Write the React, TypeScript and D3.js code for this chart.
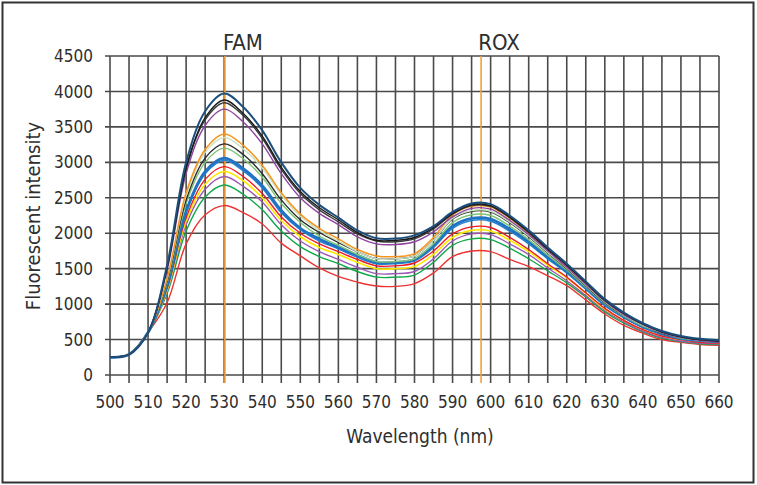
import React from "react";
import * as d3 from "d3";

const wavelengths = [500,505,510,515,520,525,530,535,540,545,550,555,560,565,570,575,580,585,590,595,600,605,610,615,620,625,630,635,640,645,650,655,660];

const s01 = [250,290,600,1550,3000,3720,3970,3780,3450,3000,2640,2400,2220,2040,1930,1925,1970,2100,2300,2420,2410,2250,2040,1800,1570,1320,1070,880,730,620,550,510,490];
const s02 = [250,290,600,1520,2930,3630,3880,3690,3370,2930,2590,2360,2190,2010,1900,1900,1940,2080,2280,2400,2390,2230,2020,1780,1550,1310,1060,870,720,610,540,500,480];
const s03 = [250,290,600,1510,2900,3600,3840,3660,3340,2900,2560,2330,2160,1990,1890,1880,1920,2060,2270,2390,2380,2220,2010,1770,1550,1300,1050,870,720,610,540,500,480];
const s04 = [250,290,600,1480,2840,3520,3750,3570,3260,2840,2500,2280,2120,1950,1850,1840,1880,2020,2230,2350,2340,2180,1980,1750,1520,1280,1040,850,710,600,530,490,470];
const s05 = [250,290,600,1360,2570,3180,3400,3240,2960,2570,2270,2070,1920,1770,1680,1670,1710,1940,2260,2380,2370,2210,2000,1770,1540,1290,1050,860,720,610,540,500,480];
const s06 = [250,290,600,1350,2530,3140,3350,3190,2920,2540,2240,2040,1890,1740,1640,1640,1680,1900,2210,2320,2310,2160,1960,1730,1510,1270,1030,845,700,600,530,490,475];
const s07 = [250,290,600,1320,2470,3060,3260,3110,2840,2470,2190,2010,1870,1740,1640,1640,1680,1900,2200,2310,2300,2150,1950,1720,1500,1260,1020,840,700,590,530,490,470];
const s08 = [250,290,600,1300,2420,3000,3200,3050,2790,2420,2150,1960,1830,1700,1600,1600,1640,1850,2150,2260,2250,2100,1910,1690,1480,1240,1010,830,690,590,520,490,470];
const s09 = [250,290,600,1260,2310,2870,3060,2910,2670,2320,2070,1920,1800,1690,1590,1590,1630,1830,2100,2210,2200,2060,1880,1660,1460,1230,1000,820,680,580,520,490,470];
const s10 = [250,290,600,1250,2290,2840,3030,2880,2640,2290,2050,1890,1780,1660,1570,1570,1610,1800,2070,2180,2170,2030,1850,1640,1440,1210,980,810,670,580,510,480,465];
const s11 = [250,290,600,1220,2220,2760,2940,2800,2560,2230,2000,1850,1740,1630,1540,1540,1580,1750,1990,2090,2080,1940,1770,1570,1380,1160,940,770,640,550,500,460,450];
const s12 = [250,290,600,1200,2170,2690,2870,2740,2500,2180,1950,1800,1700,1590,1500,1500,1530,1700,1940,2040,2030,1900,1740,1550,1370,1150,930,770,640,550,500,470,460];
const s13 = [250,290,600,1180,2120,2620,2800,2660,2440,2120,1890,1740,1630,1520,1430,1430,1460,1640,1890,1990,1980,1850,1700,1510,1330,1120,910,750,620,530,480,450,440];
const s14 = [250,290,600,1150,2030,2510,2680,2550,2330,2030,1810,1670,1570,1460,1380,1380,1410,1590,1830,1920,1910,1790,1640,1470,1300,1100,890,730,610,520,470,440,430];
const s15 = [250,290,600,1020,1850,2260,2390,2290,2130,1860,1680,1510,1390,1310,1255,1250,1290,1440,1670,1750,1740,1630,1530,1400,1260,1060,860,700,590,500,460,430,420];

const seriesValues = [s15, s14, s13, s12, s11, s10, s09, s08, s07, s06, s05, s04, s03, s02, s01];
const seriesColors = ["#ee3333","#10a84a","#9b59b6","#ffe800","#ee1c25","#2a82d0","#1f73c2","#7cc576","#2b2b2b","#c9e4c0","#f7941d","#8e44a0","#3a3a3a","#1a1a1a","#1d4f7c"];
const seriesWidths = [1.4,1.4,1.4,1.6,1.4,1.6,2.8,1.4,1.4,1.4,1.5,1.4,1.4,1.4,2];

const xTicks = [500,510,520,530,540,550,560,570,580,590,600,610,620,630,640,650,660];
const yTicks = [0,500,1000,1500,2000,2500,3000,3500,4000,4500];
const markers = [{ name: "FAM", nm: 530.2 }, { name: "ROX", nm: 597.5 }];

const FONT = "'DejaVu Sans Condensed', 'Liberation Sans Narrow', 'DejaVu Sans', sans-serif";

export default function App() {
  const x = d3.scaleLinear().domain([500, 660]).range([110, 719]);
  const y = d3.scaleLinear().domain([0, 4500]).range([375, 56]);
  const line = d3
    .line<number>()
    .x((_, i) => x(wavelengths[i]))
    .y((d) => y(d))
    .curve(d3.curveCatmullRom.alpha(0.5));
  const grid = d3.range(500, 661, 5);
  const textColor = "#2e2e2e";
  return (
    <svg
      width={757}
      height={485}
      style={{ position: "absolute", left: 0, top: 0, background: "#fff" }}
      fontFamily={FONT}
      fontStretch="condensed"
    >
      <rect x={0} y={0} width={757} height={485} fill="#fff" />
      <rect x={2.5} y={2.5} width={751} height={480} fill="none" stroke="#333" strokeWidth={2} />
      {grid.map((w) => (
        <line key={"v" + w} x1={x(w)} x2={x(w)} y1={y(4500)} y2={y(0) + 8} stroke="#4a4a4a" strokeWidth={1.6} />
      ))}
      {yTicks.map((v) => (
        <line key={"h" + v} x1={x(500) - 5} x2={x(660)} y1={y(v)} y2={y(v)} stroke="#4a4a4a" strokeWidth={1.6} />
      ))}
      {markers.map((m) => (
        <line key={m.name} x1={x(m.nm)} x2={x(m.nm)} y1={y(4500)} y2={y(0) + 8} stroke="#f7a033" strokeWidth={1.6} />
      ))}
      {seriesValues.map((vals, i) => (
        <path key={"s" + i} d={line(vals) || ""} fill="none" stroke={seriesColors[i]} strokeWidth={seriesWidths[i]} strokeLinejoin="round" />
      ))}
      {yTicks.map((v) => (
        <text key={"yl" + v} x={93} y={y(v)} dy="0.36em" textAnchor="end" fontSize={17} fill={textColor}>
          {v}
        </text>
      ))}
      {xTicks.map((w) => (
        <text key={"xl" + w} x={x(w)} y={408} textAnchor="middle" fontSize={17} fill={textColor}>
          {w}
        </text>
      ))}
      {markers.map((m) => (
        <text key={"ml" + m.name} x={x(m.nm) + 18} y={50} textAnchor="middle" fontSize={22} fill={textColor}>
          {m.name}
        </text>
      ))}
      <text x={420} y={443} textAnchor="middle" fontSize={19} fill={textColor}>
        Wavelength (nm)
      </text>
      <text
        transform="translate(40,216) rotate(-90)"
        textAnchor="middle"
        fontSize={20}
        fill={textColor}
      >
        Fluorescent intensity
      </text>
    </svg>
  );
}
